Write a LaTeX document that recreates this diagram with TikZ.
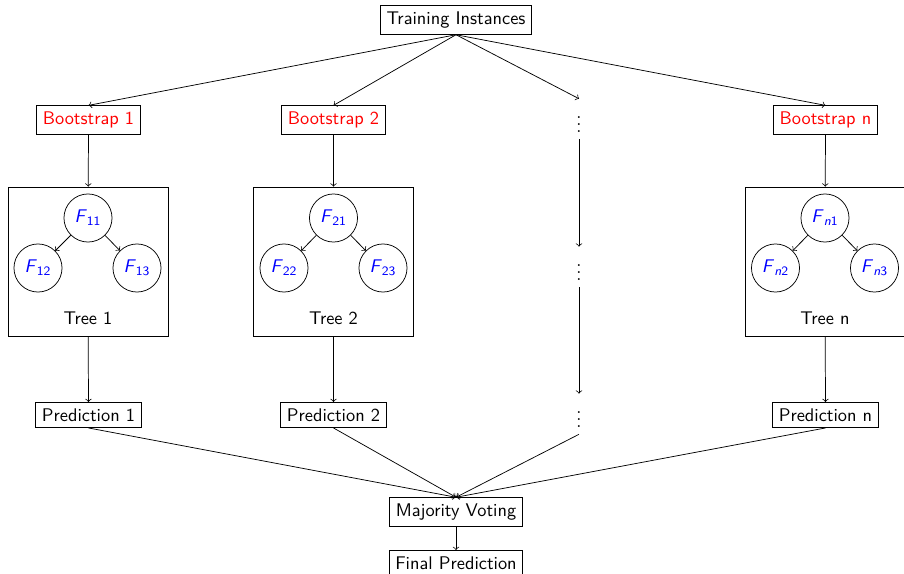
\documentclass[tikz,border=0pt]{standalone}
\usetikzlibrary{positioning}
\newcommand{\fnode}[2]{\textit{F}\textsubscript{#1#2}}
\begin{document}
\begin{tikzpicture}[x=0.545pt,y=-0.545pt,
  box/.style={draw,font=\sffamily},
  boot/.style={draw,font=\sffamily,text=red},
  treebox/.style={draw,minimum width=87.2pt,minimum height=81.2pt},
  fcirc/.style={draw,circle,minimum size=26.2pt,inner sep=0pt,font=\sffamily,text=blue},
  dotnode/.style={inner sep=3.33pt},
  arr/.style={->}]
\useasboundingbox (0,0) rectangle (904,574);
\node[box] (ti) at (456,20) {Training Instances};
\node[boot] (b1) at (88.5,120) {Bootstrap 1};
\node[boot] (b2) at (333.5,120) {Bootstrap 2};
\node[boot] (bn) at (825.5,120) {Bootstrap n};
\node[dotnode] (d1) at (579,119) {$\vdots$};
\node[dotnode] (d2) at (579,267) {$\vdots$};
\node[dotnode] (d3) at (579,414) {$\vdots$};
% trees
\node[treebox] (t1) at (88,261.5) {};
\node[treebox] (t2) at (333.5,261.5) {};
\node[treebox] (tn) at (825,261.5) {};
\node[fcirc] (f11) at (88,218) {\fnode{1}{1}};
\node[fcirc] (f12) at (38,268) {\fnode{1}{2}};
\node[fcirc] (f13) at (137,268) {\fnode{1}{3}};
\node[font=\sffamily] (l1) at (88,318) {Tree 1};
\node[fcirc] (f21) at (333.5,218) {\fnode{2}{1}};
\node[fcirc] (f22) at (284,268) {\fnode{2}{2}};
\node[fcirc] (f23) at (383,268) {\fnode{2}{3}};
\node[font=\sffamily] (l2) at (333.5,318) {Tree 2};
\node[fcirc] (fn1) at (825,218) {\fnode{\textit{n}}{1}};
\node[fcirc] (fn2) at (775.5,268) {\fnode{\textit{n}}{2}};
\node[fcirc] (fn3) at (874.5,268) {\fnode{\textit{n}}{3}};
\node[font=\sffamily] (ln) at (825,318) {Tree n};
\node[box] (p1) at (88.5,415) {Prediction 1};
\node[box] (p2) at (333.5,415) {Prediction 2};
\node[box] (pn) at (825.5,415) {Prediction n};
\node[box] (mv) at (456,512) {Majority Voting};
\node[box] (fp) at (456,563) {Final Prediction};
% arrows
\foreach \b in {b1,b2,d1,bn} \draw[arr] (ti.south) -- (\b.north);
\draw[arr] (b1) -- (t1);
\draw[arr] (b2) -- (t2);
\draw[arr] (bn) -- (tn);
\draw[arr] (d1) -- (d2);
\draw[arr] (d2) -- (d3);
\draw[arr] (t1) -- (p1);
\draw[arr] (t2) -- (p2);
\draw[arr] (tn) -- (pn);
\foreach \i/\j in {11/12,11/13,21/22,21/23,n1/n2,n1/n3} \draw[arr] (f\i) -- (f\j);
\foreach \p in {p1,p2,d3,pn} \draw[arr] (\p.south) -- (mv.north);
\draw[arr] (mv) -- (fp);
\end{tikzpicture}
\end{document}
